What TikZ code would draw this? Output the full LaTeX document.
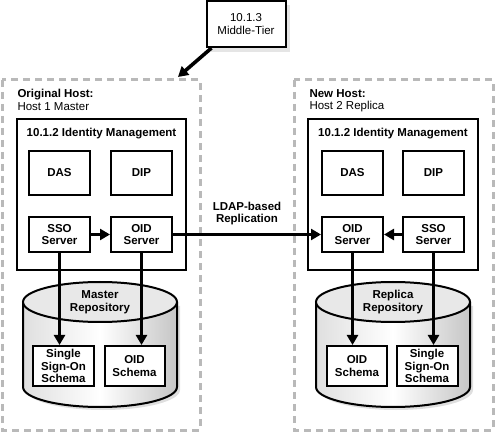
\documentclass[tikz,border=0pt]{standalone}
\usepackage{fontspec}
\setmainfont{Liberation Sans}
\usepackage{tikz}
\usetikzlibrary{positioning,arrows.meta,calc}

\begin{document}
\begin{tikzpicture}[x=1pt,y=-1pt,
	txt/.style={font=\fontsize{11.5}{12.5}\selectfont,align=center},
	box/.style={txt,font=\fontsize{11.5}{12.5}\selectfont\bfseries,draw,line width=2pt,fill=white,inner sep=0pt},
	hostbox/.style={draw=gray!55,line width=3pt,dash pattern=on 7pt off 5pt},
	arr/.style={line width=3.6pt,-{Triangle[length=10pt,width=11pt]}},
	cyl/.style={line width=2pt}]

	\useasboundingbox (0,0) rectangle (495,435);

	% middle tier
	\fill[gray!20] (211,5) rectangle (290,52);
	\node[draw,line width=2pt,fill=white,txt,minimum width=79pt,minimum height=46pt] (mid) at (246,24) {10.1.3\\Middle-Tier};

	% the two hosts
	\draw[hostbox] (2,80) rectangle (200,430);
	\draw[hostbox] (294,80) rectangle (493,430);
	\node[txt,align=left,anchor=north west] (orig) at (14,86) {\textbf{Original Host:}\\Host 1 Master};
	\node[txt,align=left,anchor=north west] (new) at (306,86) {\textbf{New Host:}\\Host 2 Replica};

	\coordinate (hosttop) at (178,77);
	\draw[arr] (mid.south west) ++(6,0) -- (hosttop);

	% identity management, host 1
	\node[box,minimum width=169pt,minimum height=151pt] (im1) at (101.5,194.5) {};
	\node[box,draw=none,fill=none] at (101.5,134) {10.1.2 Identity Management};
	\node[box,minimum width=61pt,minimum height=44pt] (das1) at (59.5,173) {DAS};
	\node[box,minimum width=61pt,minimum height=44pt] (dip1) at (141.5,173) {DIP};
	\node[box,minimum width=61pt,minimum height=35pt] (sso1) at (59.5,234.5) {SSO\\Server};
	\node[box,minimum width=61pt,minimum height=35pt] (oid1) at (141.5,234.5) {OID\\Server};

	% identity management, host 2
	\node[box,minimum width=170pt,minimum height=151pt] (im2) at (393,194.5) {};
	\node[box,draw=none,fill=none] at (393,134) {10.1.2 Identity Management};
	\node[box,minimum width=61pt,minimum height=44pt] (das2) at (352.5,173) {DAS};
	\node[box,minimum width=61pt,minimum height=44pt] (dip2) at (433.5,173) {DIP};
	\node[box,minimum width=61pt,minimum height=35pt] (oid2) at (352.5,234.5) {OID\\Server};
	\node[box,minimum width=61pt,minimum height=35pt] (sso2) at (433.5,234.5) {SSO\\Server};

	% repositories
	\fill[gray!25] (26,306) -- (26,390) arc (180:360:77pt and 20pt) -- (180,306) -- cycle;
	\shade[left color=gray!25,right color=gray!45,middle color=white] (23,302) -- (23,387) arc (180:360:77pt and 20pt) -- (177,302) -- cycle;
	\draw[cyl] (23,302) -- (23,387) arc (180:360:77pt and 20pt) -- (177,302);
	\draw[cyl,fill=gray!18] (100,302) ellipse (77pt and 20pt);
	\node[box,draw=none,fill=none] (rep1) at (100,302) {Master\\Repository};

	\fill[gray!25] (319,306) -- (319,390) arc (180:360:77pt and 20pt) -- (473,306) -- cycle;
	\shade[left color=gray!25,right color=gray!45,middle color=white] (316,302) -- (316,387) arc (180:360:77pt and 20pt) -- (470,302) -- cycle;
	\draw[cyl] (316,302) -- (316,387) arc (180:360:77pt and 20pt) -- (470,302);
	\draw[cyl,fill=gray!18] (393,302) ellipse (77pt and 20pt);
	\node[box,draw=none,fill=none] (rep2) at (393,302) {Replica\\Repository};

	\node[box,minimum width=61pt,minimum height=40pt] (ssosch1) at (63.5,366) {Single\\Sign-On\\Schema};
	\node[box,minimum width=60pt,minimum height=40pt] (oidsch1) at (134.5,366) {OID\\Schema};
	\node[box,minimum width=60pt,minimum height=40pt] (oidsch2) at (357,366) {OID\\Schema};
	\node[box,minimum width=61pt,minimum height=40pt] (ssosch2) at (427,366) {Single\\Sign-On\\Schema};

	% connectors
	\draw[arr] (sso1.east) -- (oid1.west);
	\draw[arr] (sso2.west) -- (oid2.east);
	\draw[arr] (oid1.east) -- (oid2.west)
		node[midway,above=4pt,txt,font=\fontsize{11.5}{12.5}\selectfont\bfseries] {LDAP-based\\Replication};
	\draw[arr] (sso1.south) -- (sso1.south |- ssosch1.north);
	\draw[arr] (oid1.south) -- (oid1.south |- oidsch1.north);
	\draw[arr] (oid2.south) -- (oid2.south |- oidsch2.north);
	\draw[arr] (sso2.south) -- (sso2.south |- ssosch2.north);

\end{tikzpicture}
\end{document}
